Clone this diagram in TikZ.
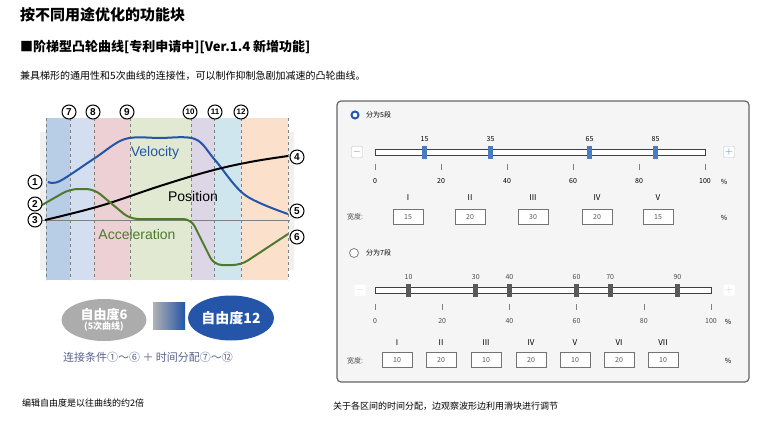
\documentclass[tikz,border=0pt]{standalone}
\usepackage{fontspec}
\setmainfont{Noto Sans CJK SC}
\setsansfont{Liberation Sans}
\usetikzlibrary{shapes.geometric}
\definecolor{vblue}{HTML}{2455A8}
\definecolor{agreen}{HTML}{4E7A2E}
\definecolor{hblue}{HTML}{4A7CC4}
\tikzset{
 cnum/.style={circle,draw,line width=1pt,fill=white,inner sep=0pt,minimum size=14pt,font=\sffamily\bfseries\fontsize{10}{10}\selectfont},
 cnum2/.style={cnum,font=\sffamily\bfseries\fontsize{8}{8}\selectfont},
 band/.style={draw=none},
 dl/.style={gray,dashed,line width=0.5pt},
 curve/.style={line width=2pt,rounded corners=8pt},
 box/.style={draw=gray!90!black,fill=white,minimum width=30pt,minimum height=15pt,inner sep=0pt,font=\fontsize{7}{7}\selectfont\color{gray!70!black}},
 sm/.style={font=\fontsize{7}{7}\selectfont,text=gray!60!black,inner sep=0pt},
 rom/.style={font=\fontsize{8}{8}\selectfont,inner sep=0pt},
 handle/.style={minimum width=5pt,minimum height=13pt,inner sep=0pt},
}
\begin{document}
\begin{tikzpicture}[x=1pt,y=-1pt]
\useasboundingbox (0,0) rectangle (768,431);
\fill[white] (0,0) rectangle (768,431);
\node[anchor=west,inner sep=0pt,font=\fontsize{15}{15}\selectfont\bfseries] (t1) at (20,15) {按不同用途优化的功能块};
\node[anchor=west,inner sep=0pt,font=\fontsize{13}{13}\selectfont\bfseries] (t2) at (20,47) {■阶梯型凸轮曲线[专利申请中][Ver.1.4 新增功能]};
\node[anchor=west,inner sep=0pt,font=\fontsize{10}{10}\selectfont] (t3) at (20,76) {兼具梯形的通用性和5次曲线的连接性，可以制作抑制急剧加减速的凸轮曲线。};
% left chart
\fill[gray!12] (40,132) rectangle (294,270);
\fill[band,fill={rgb,255:red,184;green,205;blue,230}] (46,118) rectangle (70,280);
\fill[band,fill={rgb,255:red,211;green,223;blue,240}] (70,118) rectangle (94,280);
\fill[band,fill={rgb,255:red,236;green,208;blue,211}] (94,118) rectangle (130,280);
\fill[band,fill={rgb,255:red,226;green,233;blue,211}] (130,118) rectangle (191,280);
\fill[band,fill={rgb,255:red,221;green,214;blue,230}] (191,118) rectangle (214,280);
\fill[band,fill={rgb,255:red,207;green,230;blue,238}] (214,118) rectangle (241,280);
\fill[band,fill={rgb,255:red,251;green,224;blue,204}] (241,118) rectangle (288,280);
\foreach \x in {46,70,94,130,191,214,241,288} \draw[dl] (\x,118) -- (\x,280);
\draw[gray,line width=0.8pt] (38,220) -- (290,220);
\draw[curve,vblue,rounded corners=0pt] plot[smooth,tension=0.55] coordinates {(48,182) (60,181) (95,158) (125,139) (160,138) (195,139) (215,160) (245,195) (288,214)};
\draw[curve,black,rounded corners=0pt] plot[smooth,tension=0.6] coordinates {(45,220) (100,206) (160,186) (210,171) (250,162) (288,156)};
\draw[curve,agreen] (42,205) -- (70,189) -- (94,189) -- (130,219) -- (191,219) -- (214,265) -- (241,265) -- (288,234);
\node[text=vblue,font=\sffamily\fontsize{14}{14}\selectfont] (vel) at (155,153) {Velocity};
\node[font=\sffamily\fontsize{14}{14}\selectfont] (pos) at (193,196) {Position};
\node[text=agreen,font=\sffamily\fontsize{14}{14}\selectfont] (acc) at (137,234) {Acceleration};
\node[cnum] (c1) at (35,182) {1};
\node[cnum] (c2) at (35,204) {2};
\node[cnum] (c3) at (35,220) {3};
\node[cnum] (c4) at (297,157) {4};
\node[cnum] (c5) at (297,211) {5};
\node[cnum] (c6) at (297,237) {6};
\node[cnum] (c7) at (69,112) {7};
\node[cnum] (c8) at (93,112) {8};
\node[cnum] (c9) at (127,112) {9};
\node[cnum2] (c10) at (190,112) {10};
\node[cnum2] (c11) at (215,112) {11};
\node[cnum2] (c12) at (241,112) {12};
\node[ellipse,fill=gray!65,minimum width=85pt,minimum height=42pt,inner sep=0pt,text=white,align=center,font=\bfseries] (e6) at (104,320) {\fontsize{13}{14}\selectfont 自由度6\\[-2pt]\fontsize{9}{10}\selectfont (5次曲线)};
\shade[left color=gray!60,right color=vblue] (153,302) rectangle (185,329);
\node (sq) at (169,315) {};
\node[ellipse,fill=vblue,minimum width=86pt,minimum height=45pt,inner sep=0pt,text=white,font=\bfseries\fontsize{14}{14}\selectfont] (e12) at (231,318) {自由度12};
\node[text={rgb,255:red,90;green,100;blue,140},font=\fontsize{11}{11}\selectfont,inner sep=0pt] (cond) at (148,357) {连接条件①～⑥ ＋ 时间分配⑦～⑫};
\node[anchor=west,inner sep=0pt,font=\fontsize{9}{9}\selectfont] (cap1) at (22,403) {编辑自由度是以往曲线的约2倍};
% right panel
\draw[gray!80!black,line width=1.2pt,rounded corners=4pt,fill=gray!8] (337,101) rectangle (749,382);
\node[circle,draw=vblue,line width=2pt,fill=white,minimum size=7pt,inner sep=0pt] (r1) at (355,115) {};
\node[anchor=west,sm,text=black] (r1t) at (366,115) {分为5段};
\node[draw=gray!50,fill=white,rounded corners=1pt,minimum size=11pt,inner sep=0pt,text=hblue] (m1) at (357,152) {$-$};
\node[draw=gray!50,fill=white,rounded corners=1pt,minimum size=11pt,inner sep=0pt,text=hblue] (p1) at (729,152) {$+$};
\draw[gray!50!black,fill=white,line width=0.8pt] (375,149) rectangle (705,155);
\foreach \v in {0,20,40,60,80,100}{
  \draw[gray] (375+3.3*\v,164) -- (375+3.3*\v,170);
  \node[sm,text=black] at (375+3.3*\v,181) {\v};}
\node[sm,text=black] at (724,182) {\%};
\foreach \v in {15,35,65,85}{
  \node[handle,fill=hblue] at (375+3.3*\v,152) {};
  \node[sm,text=black] at (375+3.3*\v,139) {\v};}
\foreach \r/\x/\w in {I/408/15,II/470/20,III/533/30,IV/597/20,V/658/15}{
  \node[rom] at (\x,198) {\r};
  \node[box] at (\x,217) {\w};}
\node[sm] at (355,217) {宽度:};
\node[sm,text=black] at (724,218) {\%};
\node[circle,draw=gray,line width=0.8pt,fill=white,minimum size=9pt,inner sep=0pt] (r2) at (354,253) {};
\node[anchor=west,sm,text=black] (r2t) at (366,253) {分为7段};
\node[fill=white,rounded corners=1pt,minimum size=11pt,inner sep=0pt,text=gray!40] (m2) at (360,290) {$-$};
\node[fill=white,rounded corners=1pt,minimum size=11pt,inner sep=0pt,text=gray!40] (p2) at (729,290) {$+$};
\draw[gray!50!black,fill=white,line width=0.8pt] (375,287) rectangle (711,293);
\foreach \v in {0,20,40,60,80,100}{
  \draw[gray] (375+3.36*\v,304) -- (375+3.36*\v,310);
  \node[sm] at (375+3.36*\v,321) {\v};}
\node[sm,text=black] at (728,322) {\%};
\foreach \v in {10,30,40,60,70,90}{
  \node[handle,fill=gray!70!black] at (375+3.36*\v,290) {};
  \node[sm] at (375+3.36*\v,277) {\v};}
\foreach \r/\x/\w in {I/397/10,II/441/20,III/486/10,IV/531/20,V/575/10,VI/619/20,VII/663/10}{
  \node[rom] at (\x,343) {\r};
  \node[box] at (\x,360) {\w};}
\node[sm] at (355,361) {宽度:};
\node[sm,text=black] at (728,361) {\%};
\node[anchor=west,inner sep=0pt,font=\fontsize{9}{9}\selectfont] (cap2) at (333,406) {关于各区间的时间分配，边观察波形边利用滑块进行调节};
\end{tikzpicture}
\end{document}
